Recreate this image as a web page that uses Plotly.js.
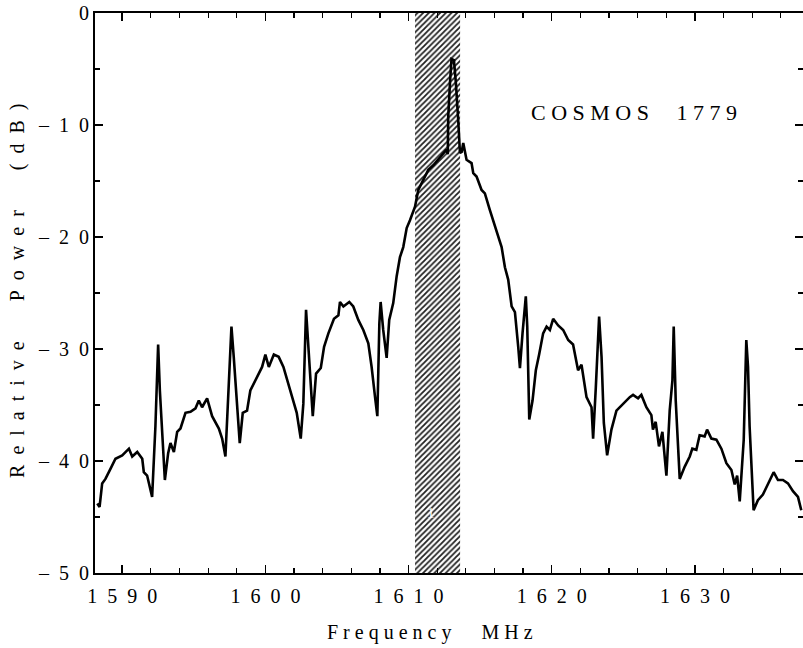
<!DOCTYPE html>
<html>
<head>
<meta charset="utf-8">
<script src="https://cdn.plot.ly/plotly-3.0.1.min.js"></script>
<style>html,body{margin:0;padding:0;background:#fff;}#chart{width:803px;height:648px;}</style>
</head>
<body>
<div id="chart"></div>
<script>
// Frequency (MHz) and relative power (dB)
const freq = [
  1588.26,1588.42,1588.60,1588.83,1589.18,1589.53,1590.00,1590.47,1590.70,1591.05,1591.40,1591.51,1591.74,1592.09,
  1592.32,1592.51,1592.63,1592.98,1593.21,1593.37,1593.61,1593.84,1594.07,1594.42,1594.77,1595.12,1595.35,1595.58,1595.93,1596.28,1596.75,1596.98,1597.21,
  1597.45,1597.63,1597.79,1597.95,1598.21,1598.42,1598.72,1598.95,1599.30,1599.54,1599.77,1600.00,1600.24,1600.59,1600.93,1601.26,1601.49,1601.84,1602.19,1602.47,
  1602.65,1602.84,1603.00,1603.31,1603.54,1603.87,1604.10,1604.40,1604.79,1605.10,1605.21,1605.45,1605.86,1606.14,1606.49,1606.84,1607.19,1607.42,1607.66,1607.82,
  1607.96,1608.05,1608.23,1608.47,1608.65,1608.93,1609.17,1609.40,1609.63,1609.87,1610.10,1610.45,1610.68,1611.03,1611.38,1611.73,1612.07,1612.42,1612.65,1612.74,
  1612.77,1612.89,1613.00,1613.17,1613.31,1613.47,1613.59,1613.71,1613.82,1614.05,1614.40,1614.52,1614.75,1615.10,1615.33,1615.68,1615.91,1616.26,1616.50,1616.73,1616.96,1617.20,1617.43,1617.66,1617.78,
  1617.96,1618.19,1618.29,1618.43,1618.66,1618.89,1619.12,1619.40,1619.64,1619.87,1620.10,1620.45,1620.80,1621.15,1621.49,1621.84,1622.08,1622.43,1622.78,1622.89,
  1623.08,1623.31,1623.48,1623.64,1623.87,1624.17,1624.52,1624.98,1625.45,1625.68,1626.03,1626.26,1626.61,1626.96,1627.07,1627.26,1627.49,1627.73,1628.01,
  1628.24,1628.43,1628.52,1628.66,1628.94,1629.29,1629.64,1629.82,1630.10,1630.33,1630.68,1630.85,1631.15,1631.50,1631.85,1632.20,1632.55,1632.78,1632.95,1633.13,
  1633.41,1633.59,1633.71,1633.82,1634.10,1634.40,1634.75,1635.10,1635.50,1635.80,1636.15,1636.50,1636.85,1637.20,1637.43
];
const power = [
  -43.8,-44.1,-42.0,-41.6,-40.7,-39.8,-39.5,-38.9,-39.6,-39.2,-39.8,-41.0,-41.3,-43.2,
  -36.9,-29.6,-33.7,-41.7,-39.3,-38.4,-39.2,-37.4,-37.1,-35.7,-35.6,-35.3,-34.6,-35.2,-34.4,-36.0,-37.1,-38.0,-39.6,
  -32.2,-28.0,-30.7,-33.7,-38.4,-35.7,-35.5,-33.7,-32.8,-32.3,-31.6,-30.5,-31.6,-30.5,-30.7,-31.6,-32.6,-34.1,-35.7,-38.0,
  -34.9,-26.5,-29.8,-36.0,-32.2,-31.7,-29.8,-28.6,-27.3,-27.0,-25.8,-26.2,-25.8,-26.2,-27.4,-28.3,-29.5,-31.6,-34.3,-36.0,
  -27.7,-25.8,-28.3,-30.8,-27.4,-25.9,-23.5,-21.8,-20.9,-19.2,-18.5,-17.3,-15.8,-14.9,-14.0,-13.6,-13.1,-12.5,-12.2,-12.6,
  -9.3,-6.3,-4.1,-4.2,-6.3,-9.6,-12.5,-12.4,-11.6,-13.1,-13.4,-14.3,-14.6,-15.8,-16.1,-17.6,-18.5,-20.0,-20.9,-22.7,-23.8,-26.2,-26.7,-29.8,-31.7,
  -28.6,-25.3,-28.0,-36.3,-34.6,-31.9,-30.5,-28.6,-28.0,-28.3,-27.3,-27.9,-28.3,-29.2,-29.6,-31.9,-31.4,-34.3,-35.2,-38.0,
  -33.4,-27.1,-30.7,-36.6,-39.5,-37.2,-35.5,-34.9,-34.3,-34.1,-34.4,-34.1,-35.2,-35.9,-37.2,-36.5,-38.7,-37.4,-41.3,
  -35.5,-32.8,-28.0,-34.6,-41.6,-40.5,-39.6,-38.9,-39.0,-37.7,-37.8,-37.2,-38.0,-38.1,-38.9,-40.2,-40.8,-42.1,-41.3,-43.6,
  -38.1,-29.2,-31.6,-36.9,-44.4,-43.5,-43.0,-42.0,-41.0,-41.7,-41.7,-42.0,-42.7,-43.2,-44.4
];
// Hatched band (MHz) and band label
const bandEdges = [1610.45, 1613.6];
const bandLabel = "1";
const bandLabelPos = [1611.6, -44.6];
// Axes
const xRange = [1588.1, 1637.55];
const yRange = [-50, 0];
const xTickVals = [1590, 1600, 1610, 1620, 1630];
const xTickText = ["1590", "1600", "1610", "1620", "1630"];
const yTickVals = [0, -10, -20, -30, -40, -50];
const yTickText = ["0", "-10", "-20", "-30", "-40", "-50"];
const chartLabel = "COSMOS 1779";
const xTitle = "Frequency MHz";
const yTitle = "Relative Power (dB)";

const NB = "\u00a0";
function spaced(s, gap, wordGap) {
  return Array.from(s).map(c => c === " " ? wordGap : c).join(gap);
}
function spacedTick(s) {
  return Array.from(s).map(c => c === "-" ? "–" : c).join(NB + NB);
}

const FONT = "'Liberation Serif', 'Times New Roman', serif";

const traces = [
  {
    x: [bandEdges[0], bandEdges[0], bandEdges[1], bandEdges[1], bandEdges[0]],
    y: [yRange[0], yRange[1], yRange[1], yRange[0], yRange[0]],
    type: "scatter", mode: "lines", fill: "toself",
    line: {width: 0, color: "rgba(0,0,0,0)"},
    fillcolor: "rgba(0,0,0,0)",
    fillpattern: {shape: "/", fgcolor: "#222", bgcolor: "#fff", size: 4, solidity: 0.45},
    hoverinfo: "skip", showlegend: false
  },
  {
    x: freq, y: power, type: "scatter", mode: "lines",
    line: {color: "#000", width: 2.6}, showlegend: false
  }
];

const axisCommon = {
  showgrid: false, zeroline: false, showline: true, linecolor: "#000", linewidth: 2,
  mirror: "ticks", ticks: "inside", tickcolor: "#000", tickwidth: 1.5, ticklen: 8,
  tickfont: {family: FONT, size: 20, color: "#000"}
};

const layout = {
  width: 803, height: 648,
  margin: {l: 95, r: 0, t: 13, b: 75},
  paper_bgcolor: "#fff", plot_bgcolor: "#fff",
  showlegend: false,
  xaxis: Object.assign({}, axisCommon, {
    range: xRange, tickmode: "array", tickvals: xTickVals,
    ticktext: xTickText.map(spacedTick), ticklabelstandoff: 4,
    minor: {dtick: 2, ticks: "inside", ticklen: 5, tickcolor: "#000", tickwidth: 1.2}
  }),
  yaxis: Object.assign({}, axisCommon, {
    range: yRange, tickmode: "array", tickvals: yTickVals,
    ticktext: yTickText.map(spacedTick),
    minor: {dtick: 5, ticks: "inside", ticklen: 5, tickcolor: "#000", tickwidth: 1.2}
  }),
  annotations: [
    {text: spaced(chartLabel, NB, NB + NB + NB), xref: "paper", yref: "paper", x: 0.761, y: 0.823,
     xanchor: "center", yanchor: "middle", showarrow: false,
     font: {family: FONT, size: 22, color: "#000"}},
    {text: spaced(xTitle, NB, NB + NB + NB + NB), xref: "paper", yref: "paper", x: 0.473, y: -0.107,
     xanchor: "center", yanchor: "middle", showarrow: false,
     font: {family: FONT, size: 20, color: "#000"}},
    {text: spaced(yTitle, NB + NB, NB + NB + NB + NB), xref: "paper", yref: "paper", x: -0.1088, y: 0.5036,
     xanchor: "center", yanchor: "middle", showarrow: false, textangle: -90,
     font: {family: FONT, size: 20, color: "#000"}},
    {text: bandLabel, x: bandLabelPos[0], y: bandLabelPos[1], xref: "x", yref: "y",
     showarrow: false, font: {family: FONT, size: 15, color: "#fff"}}
  ]
};

Plotly.newPlot("chart", traces, layout, {displayModeBar: false, staticPlot: true});
</script>
</body>
</html>
